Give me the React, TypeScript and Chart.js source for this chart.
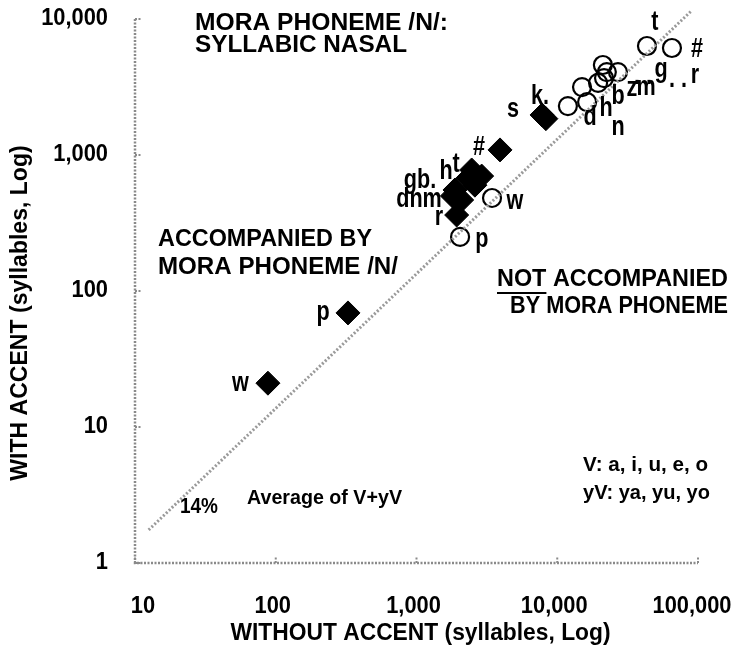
import React, { useEffect, useRef } from 'react';
import { Chart, registerables } from 'chart.js';

Chart.register(...registerables);

// Axis ticks
const xTickValues = [10, 100, 1000, 10000, 100000];
const xTickLabels = ['10', '100', '1,000', '10,000', '100,000'];
const yTickValues = [1, 10, 100, 1000, 10000];
const yTickLabels = ['1', '10', '100', '1,000', '10,000'];

// Accompanied by mora phoneme /N/ (filled diamonds)
const withNNames = ['w', 'p', 'r', 'd', 'n', 'g', 'b', 'm', 'h', 't', '#', 's', 'k'];
const withNWithout = [88, 326, 1929, 1800, 2094, 1876, 2323, 2600, 2466, 2904, 3920, 7800, 8300];
const withNWith = [21, 69, 362, 500, 467, 553, 678, 600, 776, 700, 1090, 1970, 1850];

// Not accompanied by mora phoneme (open circles)
const withoutNNames = ['t', '#', 'g', 'r', 'z', 'm', 'b', 'h', 'd', 'n', 'w', 'p'];
const withoutNWithout = [43400, 65300, 21100, 27000, 22500, 21500, 19500, 15000, 16300, 11900, 3440, 2040];
const withoutNWith = [6330, 6120, 4590, 4070, 4070, 3680, 3390, 3160, 2450, 2290, 483, 250];

// Average of V+yV (14%) reference line
const avgLineX = [12.5, 90000];
const avgLineY = [1.75, 11500];

// Point labels (data coordinates)
const labelTexts = ['w', 'p', 'r', 'dnm', 'gb.', 'h', 't', '#', 's', 'k.',
  't', '#', 'g', '. .', '. .', 'r', 'z', 'm', 'b', 'h', 'd', 'n', 'w', 'p'];
const labelX = [56, 217, 1445, 1042, 1059, 1622, 1910, 2780, 4855, 7540,
  49400, 98400, 54600, 40600, 72100, 95300, 33970, 42740, 27040, 22200, 17100, 27040, 5010, 2917];
const labelY = [21, 69, 344, 467, 644, 750, 844, 1125, 2143, 2668,
  9350, 5914, 4217, 3750, 3560, 3870, 3055, 3113, 2668, 2178, 1901, 1582, 451, 237];

const FONT = '"Liberation Sans", Arial, Helvetica, sans-serif';

function drawText(ctx: CanvasRenderingContext2D, text: string, x: number, y: number, size: number,
  align: CanvasTextAlign = 'left', sx = 1, rot = 0) {
  ctx.save();
  ctx.font = `bold ${size}px ${FONT}`;
  ctx.fillStyle = '#000';
  ctx.textAlign = align;
  ctx.textBaseline = 'middle';
  ctx.translate(x, y);
  if (rot) ctx.rotate(rot);
  ctx.scale(sx, 1);
  ctx.fillText(text, 0, 0);
  ctx.restore();
}

// draw left-aligned text fitted to a target width
function drawFit(ctx: CanvasRenderingContext2D, text: string, x: number, y: number, size: number, width: number) {
  ctx.save();
  ctx.font = `bold ${size}px ${FONT}`;
  const w = ctx.measureText(text).width;
  ctx.restore();
  drawText(ctx, text, x, y, size, 'left', width / w);
}

const decorPlugin = {
  id: 'decor',
  beforeDatasetsDraw(chart: any) {
    const ctx: CanvasRenderingContext2D = chart.ctx;
    const xs = chart.scales.x;
    const ys = chart.scales.y;
    const { left, right, top, bottom } = chart.chartArea;
    ctx.save();
    ctx.strokeStyle = '#8a8a8a';
    ctx.lineWidth = 2.5;
    ctx.setLineDash([2, 1.5]);
    ctx.beginPath();
    ctx.moveTo(left, top);
    ctx.lineTo(left, bottom);
    ctx.lineTo(right, bottom);
    ctx.stroke();
    ctx.lineWidth = 2;
    for (const v of xTickValues) {
      const px = xs.getPixelForValue(v);
      ctx.beginPath();
      ctx.moveTo(px, bottom);
      ctx.lineTo(px, bottom - 7);
      ctx.stroke();
    }
    for (const v of yTickValues) {
      const py = ys.getPixelForValue(v);
      ctx.beginPath();
      ctx.moveTo(left, py);
      ctx.lineTo(left + 7, py);
      ctx.stroke();
    }
    ctx.restore();
  },
  afterDatasetsDraw(chart: any) {
    const ctx: CanvasRenderingContext2D = chart.ctx;
    const xs = chart.scales.x;
    const ys = chart.scales.y;
    const { left, right, bottom } = chart.chartArea;

    // tick labels
    yTickValues.forEach((v, i) => {
      drawText(ctx, yTickLabels[i], left - 27, ys.getPixelForValue(v), 23, 'right', 0.95);
    });
    xTickValues.forEach((v, i) => {
      const off = i === 0 ? 8 : i === 4 ? -6 : -3;
      drawText(ctx, xTickLabels[i], xs.getPixelForValue(v) + off, bottom + 44, 23, 'center', 0.95);
    });

    // axis titles
    drawText(ctx, 'WITHOUT ACCENT (syllables, Log)', (left + right) / 2 + 4, bottom + 70, 24, 'center', 0.95);
    drawText(ctx, 'WITH ACCENT (syllables, Log)', 20, 313, 24, 'center', 0.96, -Math.PI / 2);

    // point labels
    labelTexts.forEach((t, i) => {
      drawText(ctx, t, xs.getPixelForValue(labelX[i]), ys.getPixelForValue(labelY[i]), 27, 'center', 0.8);
    });

    // annotations
    drawFit(ctx, 'MORA PHONEME /N/:', 195, 23, 24, 253);
    drawFit(ctx, 'SYLLABIC NASAL', 195, 45, 24, 212);
    drawFit(ctx, 'ACCOMPANIED BY', 158, 240, 23, 214);
    drawFit(ctx, 'MORA PHONEME /N/', 158, 268, 23, 240);
    drawFit(ctx, 'NOT ACCOMPANIED', 497, 280, 23, 231);
    drawFit(ctx, 'BY MORA PHONEME', 510, 307, 23, 218);
    ctx.save();
    ctx.font = `bold 23px ${FONT}`;
    const wAll = ctx.measureText('NOT ACCOMPANIED').width;
    const wNot = ctx.measureText('NOT').width * (231 / wAll);
    ctx.fillStyle = '#000';
    ctx.fillRect(497, 292, wNot, 2);
    ctx.restore();
    drawFit(ctx, 'V: a, i, u, e, o', 583, 465, 21, 125);
    drawFit(ctx, 'yV: ya, yu, yo', 583, 493, 21, 127);
    drawFit(ctx, '14%', 180, 507, 22, 38);
    drawFit(ctx, 'Average of V+yV', 247, 498, 21, 155);
  },
};

export default function App() {
  const canvasRef = useRef<HTMLCanvasElement | null>(null);

  useEffect(() => {
    document.body.style.margin = '0';
    const canvas = canvasRef.current;
    if (!canvas) return;
    const chart = new Chart(canvas, {
      type: 'scatter',
      data: {
        datasets: [
          {
            label: 'Average of V+yV',
            data: avgLineX.map((x, i) => ({ x, y: avgLineY[i] })),
            showLine: true,
            borderColor: '#9a9a9a',
            borderWidth: 3,
            borderDash: [2, 2],
            pointRadius: 0,
            clip: false as any,
          },
          {
            label: 'Accompanied by /N/',
            data: withNWithout.map((x, i) => ({ x, y: withNWith[i] })),
            pointStyle: 'rectRot',
            pointRadius: 12,
            backgroundColor: '#000',
            borderColor: '#000',
            borderWidth: 1,
          },
          {
            label: 'Not accompanied',
            data: withoutNWithout.map((x, i) => ({ x, y: withoutNWith[i] })),
            pointStyle: 'circle',
            pointRadius: 9,
            backgroundColor: 'rgba(255,255,255,0)',
            borderColor: '#000',
            borderWidth: 2.2,
          },
        ],
      },
      options: {
        responsive: false,
        animation: false,
        devicePixelRatio: 1,
        layout: { padding: { top: 19, right: 40, left: 0, bottom: 0 } },
        plugins: { legend: { display: false }, tooltip: { enabled: false } },
        scales: {
          x: {
            type: 'logarithmic',
            min: 10,
            max: 100000,
            ticks: { display: false },
            grid: { display: false },
            border: { display: false },
            afterFit: (s: any) => { s.height = 92; },
          },
          y: {
            type: 'logarithmic',
            min: 1,
            max: 10000,
            ticks: { display: false },
            grid: { display: false },
            border: { display: false },
            afterFit: (s: any) => { s.width = 135; },
          },
        },
      },
      plugins: [decorPlugin],
    });
    return () => chart.destroy();
  }, []);

  return (
    <div style={{ position: 'absolute', left: 0, top: 0, width: 738, height: 655, background: '#fff' }}>
      <canvas ref={canvasRef} width={738} height={655} style={{ display: 'block' }} />
    </div>
  );
}
